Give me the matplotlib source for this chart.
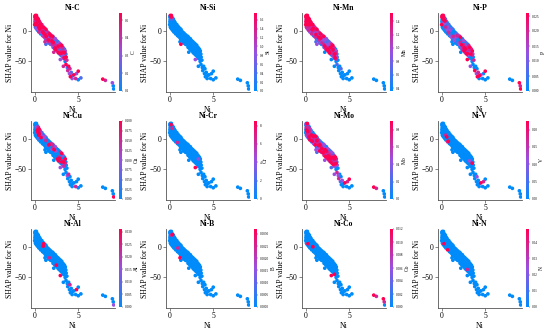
import matplotlib
matplotlib.use("Agg")
import matplotlib.pyplot as plt
import numpy as np
from matplotlib.colors import LinearSegmentedColormap

# Ni content and SHAP value for Ni
ni = [
    0.05, 0.08, 0.10, 0.12, 0.15, 0.15, 0.18, 0.20, 0.20, 0.22, 0.25, 0.25, 0.28, 0.30, 0.30,
    0.32, 0.35, 0.35, 0.38, 0.40, 0.40, 0.42, 0.45, 0.45, 0.48, 0.50, 0.50, 0.10, 0.05, 0.18,
    0.55, 0.60, 0.60, 0.65, 0.70, 0.70, 0.75, 0.80, 0.80, 0.85, 0.90, 0.90, 0.95, 1.00, 1.00,
    1.05, 1.10, 1.15, 1.20, 1.25, 1.30, 1.35, 1.40, 1.45, 1.50, 1.30, 1.20,
    1.55, 1.60, 1.65, 1.70, 1.75, 1.80, 1.85, 1.90, 1.95, 2.00,
    2.05, 2.10, 2.15, 2.20, 2.25, 2.30, 2.35, 2.40, 2.45, 2.50, 2.20,
    2.55, 2.60, 2.65, 2.70, 2.75, 2.80, 2.85, 2.90, 2.95, 3.00,
    3.05, 3.10, 3.15, 3.20, 3.25, 3.30, 3.35, 3.40, 3.45, 3.50, 3.30,
    2.95, 3.50, 3.60, 3.70, 3.75, 3.80, 3.90, 4.00, 4.05, 4.10, 4.20, 4.30, 4.35, 4.50, 4.70,
    4.80, 5.00, 5.00, 5.30, 3.30,
    7.80, 8.10, 8.90, 9.00, 9.05,
    0.02, 0.06, 0.10, 0.14, 0.18, 0.22, 0.26, 0.30, 0.34, 0.38,
    0.44, 0.52, 0.58, 0.62, 0.68, 0.72, 0.78, 0.84, 0.92, 0.98,
    1.05, 1.12, 1.18, 1.26, 1.32, 1.42, 1.48, 1.58, 1.62, 1.72,
    1.82, 1.88, 1.98, 2.08, 2.12, 2.18, 2.28, 2.38, 2.42, 2.52,
    2.58, 2.68, 2.72, 2.82, 2.88, 2.98, 3.02, 3.12, 3.18, 3.22,
    3.28, 3.38, 3.42, 3.48, 3.52, 3.58, 3.62, 0.36, 0.46, 0.12,
]
shap_ni = [
    22, 18, 25, 14, 20, 10, 23, 16, 8, 19, 12, 22, 5, 17, 10,
    14, 20, 7, 12, 3, 16, 9, 13, 0, 6, 10, -2, 12, 15, 4,
    8, 3, 12, -1, 6, -5, 2, -3, 7, 0, -6, 4, -2, -8, 1,
    -4, -10, 0, -6, -12, -3, -9, -14, -5, -11, -22, -18,
    -7, -15, -10, -18, -12, -8, -16, -20, -13, -17,
    -22, -15, -19, -25, -18, -23, -28, -20, -26, -30, -35,
    -23, -28, -33, -25, -30, -35, -27, -32, -37, -29,
    -34, -38, -31, -36, -40, -33, -38, -42, -36, -40, -45,
    -47, -50, -55, -48, -60, -65, -58, -70, -62, -75, -68, -78, -73, -72, -78,
    -70, -66, -80, -77, -58,
    -79, -81, -85, -90, -95,
    10, 24, 6, 24, 13, 25, 3, 21, 1, 18,
    19, 16, -1, 14, 1, 11, -4, 10, -8, 7,
    5, -7, 4, -13, 2, -1, -16, -3, -20, -5,
    -22, -7, -23, -9, -27, -11, -29, -13, -31, -16,
    -33, -18, -36, -20, -38, -22, -40, -24, -42, -27,
    -28, -44, -30, -46, -33, -38, -43, 10, 4, 19,
]

# colour level of each point for every interacting element (0 = low .. 4 = high)
lvl_c = [
    4, 3, 4, 2, 4, 0, 4, 3, 1, 4, 2, 4, 0, 3, 4, 1, 4, 2, 3, 0, 4, 1, 3, 2, 4, 0, 3, 4, 1, 2,
    3, 4, 1, 2, 4, 0, 3, 2, 4, 1, 0, 3, 4, 2, 1,
    4, 3, 0, 4, 2, 1, 4, 3, 0, 2, 1, 3,
    2, 4, 1, 3, 0, 4, 2, 1, 3, 4,
    3, 1, 4, 2, 0, 3, 4, 1, 2, 0, 3,
    2, 3, 0, 4, 1, 2, 3, 0, 4, 1,
    3, 2, 0, 4, 1, 3, 2, 0, 4, 1, 2,
    2, 0, 4, 3, 1, 3, 4, 2, 3, 4, 1, 2, 0, 4, 3, 2, 4, 0, 1, 3,
    4, 3, 2, 0, 0,
    4, 3, 0, 4, 2, 4, 1, 3, 0, 4, 3, 4, 0, 2, 1, 4, 0, 3, 1, 2,
    4, 0, 3, 1, 4, 2, 0, 3, 1, 4, 0, 3, 2, 4, 1, 0, 3, 2, 4, 1,
    3, 0, 4, 2, 1, 3, 0, 4, 2, 3, 1, 4, 0, 3, 2, 0, 4, 3, 1, 2,
]
lvl_si = [
    0, 0, 4, 0, 0, 0, 4, 0, 0, 1, 0, 3, 0, 0, 0, 0, 1, 0, 0, 0, 0, 0, 0, 0, 0, 0, 0, 0, 0, 0,
    0, 0, 0, 0, 0, 0, 0, 0, 0, 0, 0, 0, 0, 0, 0,
    0, 0, 0, 0, 0, 0, 0, 0, 0, 0, 4, 0,
    0, 0, 0, 0, 0, 0, 0, 0, 0, 0,
    0, 0, 0, 0, 0, 0, 0, 0, 0, 0, 0,
    0, 0, 0, 0, 0, 0, 0, 0, 0, 0,
    0, 0, 0, 0, 0, 0, 0, 0, 0, 0, 0,
    2, 0, 0, 0, 0, 0, 0, 0, 0, 0, 0, 0, 0, 0, 0, 0, 0, 0, 0, 0,
    0, 0, 0, 0, 0,
    0, 0, 0, 0, 0, 4, 0, 0, 0, 0, 0, 0, 0, 0, 0, 0, 0, 0, 0, 0,
    0, 0, 0, 0, 0, 0, 0, 0, 0, 0, 0, 0, 0, 0, 0, 0, 0, 0, 0, 0,
    0, 0, 0, 0, 0, 0, 0, 0, 0, 0, 0, 0, 0, 0, 0, 0, 0, 0, 0, 0,
]
lvl_mn = [
    4, 3, 4, 2, 4, 3, 4, 2, 3, 4, 1, 4, 2, 3, 4, 2, 4, 3, 1, 2, 4, 3, 2, 1, 3, 4, 2, 3, 4, 2,
    3, 1, 4, 2, 0, 3, 4, 1, 2, 3, 0, 4, 2, 1, 3,
    2, 3, 1, 4, 0, 2, 3, 1, 0, 4, 2, 1,
    1, 3, 0, 2, 4, 1, 0, 3, 2, 1,
    3, 2, 0, 4, 1, 2, 3, 0, 1, 4, 0,
    2, 3, 4, 1, 3, 2, 4, 1, 3, 2,
    3, 1, 4, 2, 3, 0, 4, 1, 3, 2, 1,
    0, 0, 1, 0, 0, 0, 0, 0, 1, 0, 0, 0, 0, 0, 0, 0, 0, 0, 0, 0,
    0, 0, 0, 0, 0,
    4, 4, 3, 4, 3, 4, 2, 4, 3, 4, 4, 3, 1, 4, 2, 3, 0, 4, 1, 3,
    2, 0, 3, 1, 4, 2, 0, 3, 1, 4, 0, 3, 2, 4, 1, 0, 3, 2, 4, 1,
    3, 1, 4, 2, 0, 3, 1, 4, 2, 3, 1, 4, 0, 3, 2, 0, 1, 3, 2, 4,
]
lvl_p = [
    4, 0, 4, 0, 3, 0, 4, 1, 0, 4, 0, 3, 0, 4, 0, 1, 3, 0, 2, 0, 4, 0, 1, 0, 3, 0, 0, 2, 0, 0,
    0, 1, 0, 0, 2, 0, 0, 3, 0, 0, 1, 0, 0, 0, 2,
    0, 2, 0, 0, 1, 0, 3, 0, 0, 2, 0, 0,
    1, 0, 2, 0, 0, 3, 0, 1, 0, 0,
    2, 0, 3, 1, 0, 4, 2, 0, 3, 1, 0,
    3, 4, 1, 2, 4, 0, 3, 2, 4, 1,
    2, 0, 3, 1, 0, 2, 4, 0, 1, 3, 0,
    4, 0, 0, 3, 0, 4, 0, 2, 0, 4, 3, 0, 4, 2, 0, 0, 4, 0, 0, 2,
    0, 0, 4, 3, 4,
    4, 3, 0, 4, 0, 4, 0, 3, 0, 2, 0, 1, 0, 0, 2, 0, 0, 1, 0, 0,
    0, 0, 1, 0, 0, 0, 2, 0, 0, 1, 0, 2, 0, 3, 0, 4, 1, 0, 3, 2,
    4, 0, 3, 1, 4, 0, 2, 3, 0, 4, 1, 0, 3, 0, 4, 2, 0, 0, 1, 0,
]
lvl_cu = [
    0, 0, 0, 0, 0, 0, 0, 0, 0, 2, 0, 0, 0, 0, 0, 4, 0, 0, 4, 0, 3, 0, 0, 1, 4, 0, 0, 0, 0, 0,
    4, 1, 3, 0, 2, 0, 4, 0, 1, 0, 0, 2, 0, 0, 0,
    0, 0, 2, 0, 0, 3, 0, 0, 0, 1, 0, 0,
    0, 0, 4, 0, 0, 3, 0, 0, 0, 2,
    0, 3, 0, 0, 4, 0, 0, 2, 0, 0, 0,
    0, 0, 4, 0, 3, 0, 0, 4, 0, 0,
    0, 4, 0, 3, 0, 0, 4, 1, 0, 3, 2,
    2, 0, 0, 0, 2, 0, 3, 0, 0, 0, 0, 0, 0, 0, 3, 0, 0, 0, 0, 0,
    0, 0, 0, 0, 4,
    0, 0, 0, 0, 0, 0, 0, 0, 0, 2, 3, 4, 0, 3, 0, 2, 0, 0, 0, 0,
    0, 0, 2, 0, 0, 0, 0, 0, 0, 0, 0, 0, 0, 3, 0, 0, 0, 2, 0, 0,
    0, 0, 4, 0, 0, 3, 0, 4, 0, 2, 0, 3, 0, 0, 4, 0, 0, 3, 0, 0,
]
lvl_cr = [
    0, 0, 0, 0, 0, 0, 4, 0, 0, 0, 0, 0, 0, 3, 0, 0, 0, 0, 0, 0, 0, 0, 0, 0, 0, 0, 0, 0, 0, 0,
    0, 0, 0, 0, 0, 0, 0, 0, 0, 0, 3, 0, 0, 0, 0,
    0, 0, 0, 0, 0, 0, 0, 0, 0, 0, 0, 0,
    0, 0, 0, 0, 0, 0, 0, 0, 0, 0,
    0, 0, 0, 0, 0, 0, 0, 0, 0, 0, 0,
    0, 0, 0, 0, 0, 0, 0, 0, 0, 0,
    0, 0, 0, 0, 0, 2, 0, 0, 0, 0, 0,
    4, 0, 0, 0, 0, 0, 0, 0, 0, 0, 0, 0, 0, 0, 0, 0, 0, 0, 0, 0,
    0, 0, 0, 0, 0,
    0, 0, 0, 0, 0, 0, 0, 0, 0, 0, 0, 0, 0, 0, 0, 0, 0, 0, 0, 0,
    0, 0, 0, 0, 0, 0, 0, 0, 0, 0, 0, 0, 0, 0, 0, 0, 0, 0, 0, 0,
    0, 0, 0, 0, 0, 0, 0, 0, 0, 0, 0, 0, 0, 0, 0, 0, 0, 0, 0, 0,
]
lvl_mo = [
    0, 3, 0, 4, 0, 2, 0, 0, 3, 0, 4, 0, 1, 0, 0, 3, 0, 2, 0, 4, 0, 0, 3, 0, 1, 0, 4, 0, 0, 2,
    3, 0, 2, 0, 4, 1, 0, 3, 0, 0, 2, 4, 0, 1, 3,
    2, 4, 0, 3, 1, 4, 2, 0, 3, 4, 1, 2,
    3, 1, 4, 2, 3, 0, 4, 2, 1, 3,
    4, 2, 3, 1, 4, 3, 2, 4, 1, 3, 2,
    3, 4, 2, 3, 4, 1, 3, 4, 2, 3,
    2, 3, 4, 1, 3, 4, 2, 3, 1, 4, 2,
    1, 0, 3, 0, 2, 3, 0, 1, 0, 0, 2, 0, 0, 4, 0, 3, 4, 0, 0, 2,
    4, 3, 0, 0, 0,
    0, 2, 0, 3, 0, 4, 0, 1, 0, 3, 0, 2, 0, 0, 3, 0, 4, 0, 2, 0,
    3, 0, 4, 1, 0, 3, 2, 0, 4, 1, 3, 0, 4, 2, 3, 1, 4, 0, 3, 2,
    4, 1, 3, 0, 4, 2, 3, 1, 4, 0, 3, 2, 4, 0, 3, 1, 2, 0, 1, 0,
]
lvl_v = [
    0, 0, 0, 0, 0, 0, 0, 0, 0, 0, 0, 0, 0, 0, 0, 0, 0, 0, 0, 0, 0, 0, 0, 0, 3, 0, 0, 0, 0, 0,
    0, 4, 0, 0, 0, 3, 0, 0, 0, 0, 0, 0, 0, 0, 0,
    0, 0, 0, 0, 0, 0, 0, 0, 0, 0, 0, 0,
    0, 0, 0, 0, 0, 0, 0, 0, 0, 0,
    0, 0, 0, 0, 0, 0, 0, 0, 0, 0, 0,
    0, 0, 0, 0, 0, 0, 0, 0, 0, 0,
    0, 0, 0, 2, 0, 0, 0, 0, 0, 4, 0,
    0, 0, 0, 0, 0, 0, 0, 0, 2, 0, 0, 0, 0, 4, 0, 3, 0, 0, 0, 0,
    0, 0, 0, 0, 0,
    0, 0, 0, 0, 0, 0, 0, 0, 0, 0, 0, 0, 0, 0, 0, 0, 4, 0, 0, 0,
    0, 0, 0, 0, 0, 0, 0, 0, 0, 0, 0, 0, 0, 0, 0, 0, 0, 0, 0, 0,
    0, 0, 0, 0, 0, 0, 0, 0, 0, 0, 0, 0, 0, 0, 0, 0, 0, 0, 0, 0,
]
lvl_al = [
    0, 0, 0, 0, 0, 0, 0, 0, 0, 0, 0, 0, 0, 0, 0, 0, 0, 0, 0, 0, 0, 0, 0, 0, 0, 0, 0, 0, 0, 0,
    0, 0, 0, 0, 0, 0, 0, 0, 0, 0, 0, 0, 0, 0, 4,
    0, 0, 0, 0, 0, 0, 0, 0, 0, 0, 0, 0,
    0, 0, 0, 3, 0, 0, 0, 0, 0, 0,
    0, 0, 0, 0, 0, 0, 0, 0, 0, 4, 0,
    0, 0, 0, 0, 0, 0, 0, 0, 0, 0,
    0, 0, 0, 0, 0, 0, 0, 0, 0, 0, 0,
    4, 0, 0, 0, 0, 0, 0, 0, 3, 0, 0, 0, 0, 0, 0, 4, 0, 0, 0, 0,
    0, 0, 0, 0, 2,
    0, 0, 0, 0, 0, 0, 0, 0, 0, 0, 0, 0, 0, 0, 0, 0, 0, 0, 0, 0,
    4, 0, 0, 0, 0, 0, 0, 0, 0, 0, 0, 0, 0, 0, 0, 0, 0, 0, 0, 0,
    0, 0, 0, 0, 0, 0, 0, 0, 0, 0, 0, 0, 0, 0, 0, 0, 0, 0, 0, 0,
]
lvl_b = [
    0, 0, 0, 0, 0, 0, 0, 0, 0, 3, 0, 0, 0, 0, 0, 0, 4, 0, 0, 0, 0, 0, 0, 0, 0, 0, 0, 0, 0, 0,
    0, 0, 0, 0, 0, 0, 0, 0, 0, 0, 0, 0, 3, 0, 0,
    0, 0, 0, 0, 0, 0, 0, 0, 0, 0, 0, 4,
    0, 0, 0, 0, 0, 0, 0, 0, 0, 0,
    0, 0, 0, 0, 0, 0, 0, 0, 0, 0, 0,
    0, 0, 0, 0, 0, 0, 0, 0, 0, 0,
    0, 0, 0, 0, 0, 0, 0, 0, 0, 0, 0,
    0, 0, 0, 0, 0, 0, 0, 0, 0, 0, 0, 0, 0, 0, 0, 0, 0, 0, 0, 0,
    0, 0, 0, 0, 0,
    0, 0, 0, 0, 0, 0, 0, 0, 0, 0, 0, 0, 0, 0, 0, 0, 0, 0, 0, 0,
    0, 0, 0, 0, 0, 0, 0, 0, 0, 0, 0, 0, 0, 0, 0, 0, 0, 0, 0, 0,
    0, 0, 0, 0, 0, 0, 0, 0, 0, 0, 0, 0, 0, 0, 0, 0, 0, 0, 0, 0,
]
lvl_co = [
    0, 0, 0, 0, 0, 0, 0, 0, 0, 0, 0, 0, 4, 0, 0, 0, 0, 0, 0, 0, 0, 0, 0, 0, 0, 0, 0, 0, 0, 0,
    0, 0, 0, 0, 0, 0, 0, 0, 0, 4, 0, 0, 0, 0, 0,
    0, 0, 0, 0, 0, 0, 0, 0, 0, 0, 0, 0,
    0, 0, 0, 0, 0, 0, 0, 0, 0, 0,
    0, 0, 0, 0, 0, 0, 0, 0, 0, 0, 0,
    0, 0, 0, 0, 0, 0, 0, 0, 0, 0,
    0, 0, 0, 0, 0, 0, 0, 0, 0, 0, 4,
    4, 0, 0, 0, 0, 0, 0, 0, 0, 0, 0, 0, 0, 0, 0, 0, 0, 0, 0, 0,
    4, 3, 4, 3, 0,
    0, 0, 0, 0, 0, 0, 0, 0, 0, 0, 0, 0, 0, 0, 0, 0, 0, 0, 0, 0,
    0, 0, 0, 0, 0, 0, 0, 0, 0, 0, 0, 0, 0, 0, 0, 0, 0, 0, 0, 0,
    0, 0, 0, 0, 0, 0, 0, 0, 0, 0, 0, 0, 0, 0, 0, 0, 0, 0, 0, 0,
]
lvl_n = [
    0, 0, 0, 0, 0, 0, 0, 0, 0, 0, 0, 0, 4, 0, 0, 0, 0, 0, 0, 0, 0, 0, 0, 0, 0, 0, 0, 0, 0, 0,
    0, 0, 0, 0, 0, 4, 0, 0, 0, 0, 0, 0, 0, 0, 0,
    0, 0, 0, 0, 0, 0, 0, 0, 0, 0, 0, 0,
    0, 0, 0, 0, 0, 0, 0, 0, 0, 0,
    0, 0, 0, 0, 0, 0, 0, 0, 0, 0, 0,
    0, 0, 0, 0, 0, 0, 0, 0, 3, 0,
    0, 0, 0, 0, 0, 0, 0, 0, 0, 0, 0,
    0, 0, 0, 0, 0, 0, 0, 0, 0, 0, 0, 0, 0, 0, 0, 0, 0, 0, 0, 0,
    0, 0, 0, 0, 0,
    0, 0, 0, 0, 0, 0, 0, 0, 0, 0, 0, 0, 0, 0, 0, 0, 0, 0, 0, 0,
    0, 0, 0, 0, 0, 0, 0, 0, 0, 0, 0, 0, 0, 0, 0, 0, 0, 0, 0, 0,
    0, 0, 0, 0, 0, 0, 0, 0, 0, 0, 0, 0, 0, 0, 0, 0, 0, 0, 0, 0,
]

elements = ["C", "Si", "Mn", "P", "Cu", "Cr", "Mo", "V", "Al", "B", "Co", "N"]
levels = [lvl_c, lvl_si, lvl_mn, lvl_p, lvl_cu, lvl_cr, lvl_mo, lvl_v, lvl_al, lvl_b, lvl_co, lvl_n]
vmins = [0.1, 0.0, 0.36, 0.0, 0.0, 0.0, 0.0, 0.0, 0.0, 0.0, 0.0, 0.0]
vmaxs = [0.54, 1.75, 1.52, 0.026, 0.2, 8.5, 0.9, 0.225, 0.031, 0.0032, 0.012, 0.048]
cb_ticks = [
    [0.1, 0.2, 0.3, 0.4, 0.5],
    [0.0, 0.2, 0.4, 0.6, 0.8, 1.0, 1.2, 1.4, 1.6],
    [0.4, 0.6, 0.8, 1.0, 1.2, 1.4],
    [0.0, 0.005, 0.01, 0.015, 0.02, 0.025],
    [0.0, 0.025, 0.05, 0.075, 0.1, 0.125, 0.15, 0.175, 0.2],
    [0, 2, 4, 6, 8],
    [0.0, 0.2, 0.4, 0.6, 0.8],
    [0.0, 0.05, 0.1, 0.15, 0.2],
    [0.0, 0.005, 0.01, 0.015, 0.02, 0.025, 0.03],
    [0.0, 0.0005, 0.001, 0.0015, 0.002, 0.0025, 0.003],
    [0.0, 0.002, 0.004, 0.006, 0.008, 0.01, 0.012],
    [0.0, 0.01, 0.02, 0.03, 0.04],
]
cb_fmt = ["%.1f", "%.1f", "%.1f", "%.3f", "%.3f", "%d", "%.1f", "%.2f", "%.3f", "%.4f", "%.3f", "%.2f"]

plt.rcParams["font.family"] = ["Liberation Serif", "DejaVu Serif"]
cmap = LinearSegmentedColormap.from_list("red_blue", ["#008bfb", "#9a4fe0", "#ff0052"])

W, H = 550, 331
fig = plt.figure(figsize=(W / 100, H / 100), dpi=100)

col_left = [31, 166, 302, 438]
row_top = [13, 121, 229]
ax_w, ax_h = 84, 79

for i, name in enumerate(elements):
    r, c = divmod(i, 4)
    x0, y0 = col_left[c], row_top[r]
    ax = fig.add_axes([x0 / W, 1 - (y0 + ax_h) / H, ax_w / W, ax_h / H])
    cax = fig.add_axes([(x0 + 88) / W, 1 - (y0 + ax_h - 1) / H, 3 / W, (ax_h - 1) / H])

    lv = np.array(levels[i])
    vals = vmins[i] + lv / 4 * (vmaxs[i] - vmins[i])
    order = np.argsort(lv, kind="stable")
    sc = ax.scatter(np.array(ni)[order], np.array(shap_ni)[order], c=vals[order], cmap=cmap,
                    vmin=vmins[i], vmax=vmaxs[i], s=7, linewidths=0)

    ax.set_xlim(-0.4, 9.2)
    ax.set_ylim(-100, 29)
    ax.set_xticks([0, 5])
    ax.set_yticks([-50, 0])
    for side in ["top", "right"]:
        ax.spines[side].set_visible(False)
    for side in ["left", "bottom"]:
        ax.spines[side].set_color("#555555")
        ax.spines[side].set_linewidth(0.6)
    ax.tick_params(labelsize=5.5, length=2, width=0.5, color="#555555", pad=1)
    ax.set_title("Ni-" + name, fontsize=5.5, fontweight="bold", pad=2)
    ax.set_xlabel("Ni", fontsize=5.5, labelpad=1)
    ax.set_ylabel("SHAP value for Ni", fontsize=5.5, labelpad=1)

    cb = fig.colorbar(sc, cax=cax)
    cb.outline.set_visible(False)
    cb.set_ticks(cb_ticks[i])
    cb.ax.set_yticklabels([cb_fmt[i] % t for t in cb_ticks[i]])
    cb.ax.tick_params(labelsize=2.4, length=1, width=0.3, pad=1)
    cb.set_label(name, fontsize=4, labelpad=1)

fig.savefig("out.png", dpi=100)
